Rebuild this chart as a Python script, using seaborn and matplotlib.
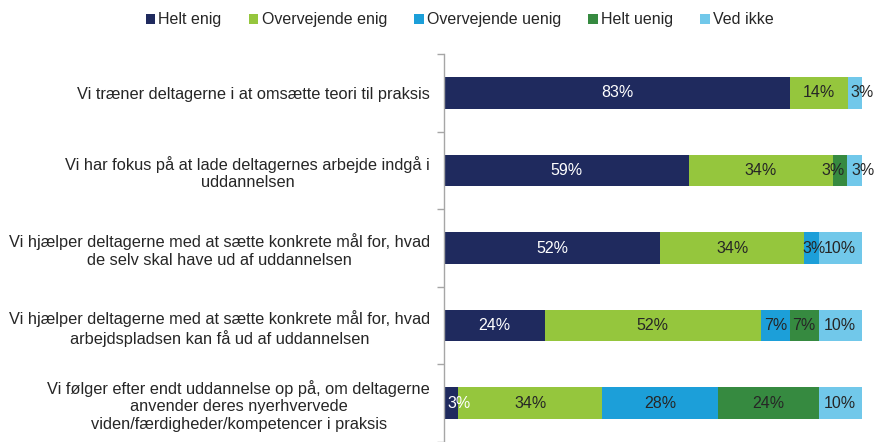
import numpy as np
import pandas as pd
import matplotlib
matplotlib.use("Agg")
import matplotlib.pyplot as plt
import seaborn as sns
from matplotlib.patches import Patch


# ======================================================
# DATA
# ======================================================

statements = [
    "Vi træner deltagerne i at omsætte teori til praksis",
    "Vi har fokus på at lade deltagernes arbejde indgå i\nuddannelsen",
    "Vi hjælper deltagerne med at sætte konkrete mål for, hvad\nde selv skal have ud af uddannelsen",
    "Vi hjælper deltagerne med at sætte konkrete mål for, hvad\narbejdspladsen kan få ud af uddannelsen",
    "Vi følger efter endt uddannelse op på, om deltagerne\nanvender deres nyerhvervede\nviden/færdigheder/kompetencer i praksis",
]

answers = ["Helt enig", "Overvejende enig", "Overvejende uenig", "Helt uenig", "Ved ikke"]

helt_enig = [82.8, 58.6, 51.7, 24.1, 3.4]
overvejende_enig = [13.8, 34.5, 34.5, 51.7, 34.5]
overvejende_uenig = [0.0, 0.0, 3.4, 6.9, 27.6]
helt_uenig = [0.0, 3.4, 0.0, 6.9, 24.1]
ved_ikke = [3.4, 3.4, 10.3, 10.3, 10.3]

colors = ["#1F2A5E", "#95C63D", "#1C9FD9", "#368A40", "#71C8EA"]
text_colors = ["white", "#262626", "#262626", "#262626", "#262626"]

# small labels are nudged sideways (points) like in the original chart
label_nudge = {(0, 4): 5, (1, 3): -5, (1, 4): 6, (2, 2): 2, (4, 0): 6}

FS = 11.5


# ======================================================
# PLOT
# ======================================================

sns.set_theme(style="white")
plt.rcParams["font.family"] = ["Liberation Sans", "DejaVu Sans"]

series = [helt_enig, overvejende_enig, overvejende_uenig, helt_uenig, ved_ikke]
values = pd.DataFrame(dict(zip(answers, series)), index=statements)
cum = values.cumsum(axis=1)

fig = plt.figure(figsize=(8.86, 4.42), dpi=100)
ax = fig.add_axes([444 / 886, 0.0, 418 / 886, 388 / 442])

# stacked bars: draw cumulative totals from the last answer back to the first
for k in range(len(answers) - 1, -1, -1):
    df = pd.DataFrame({"statement": statements, "value": cum.iloc[:, k].values})
    sns.barplot(
        data=df, x="value", y="statement", orient="h",
        color=colors[k], saturation=1, width=0.405,
        edgecolor="none", ax=ax,
    )

# segment labels
for i, st in enumerate(statements):
    for k, ans in enumerate(answers):
        v = values.loc[st, ans]
        if v <= 0:
            continue
        left = cum.iloc[i, k] - v
        ax.annotate(f"{v:.0f}%", (left + v / 2, i),
                    xytext=(label_nudge.get((i, k), 0), 0),
                    textcoords="offset points",
                    ha="center", va="center",
                    color=text_colors[k], fontsize=FS)

ax.set_xlim(0, 100)
ax.set_ylim(-0.5 + 388 / 79, -0.5)

ax.set_xlabel("")
ax.set_ylabel("")
ax.set_xticks([])

ax.set_yticks(range(len(statements)))
ax.set_yticklabels(statements, fontsize=11.8, color="#262626")
for lbl in ax.get_yticklabels():
    lbl.set_multialignment("center")
ax.tick_params(axis="y", which="major", length=0, pad=10)
ax.set_yticks(np.arange(-0.5, len(statements) - 0.4, 1), minor=True)
ax.tick_params(axis="y", which="minor", length=5, color="#A6A6A6",
               width=1, direction="out", left=True)

for side in ["top", "right", "bottom"]:
    ax.spines[side].set_visible(False)
ax.spines["left"].set_color("#A6A6A6")
ax.spines["left"].set_linewidth(1)

handles = [Patch(facecolor=c, edgecolor="none") for c in colors]
fig.legend(
    handles, answers, loc="center", bbox_to_anchor=(0.519, 0.955),
    ncol=5, frameon=False, fontsize=FS,
    handlelength=0.6, handleheight=0.6, handletextpad=0.2,
    columnspacing=1.7, labelcolor="#262626",
)

fig.savefig("out.png", dpi=100)
